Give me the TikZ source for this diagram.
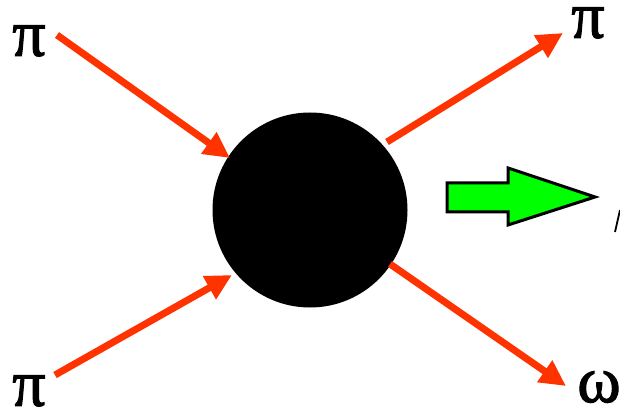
\documentclass[tikz,border=0pt]{standalone}
\usepackage{fontspec}
\setmainfont{Liberation Serif}
\newfontfamily\labfont{Liberation Serif}[FakeBold=1.6]
\usetikzlibrary{arrows.meta}
\definecolor{redarrow}{HTML}{FF3300}
\definecolor{greenarrow}{HTML}{00FF00}
\begin{document}
\begin{tikzpicture}[x=1pt,y=-1pt,
  particle/.style={draw=redarrow,line width=7pt,-{Triangle[length=26pt,width=25pt]}},
  lab/.style={inner sep=0pt,font=\labfont\fontsize{66}{66}\selectfont}]
\useasboundingbox (0,0) rectangle (620,411);
\node[circle,fill=black,minimum size=195pt,inner sep=0pt] (blob) at (310,210) {};
\node[lab] (pi1) at (29,41) {π};
\node[lab] (pi2) at (29,391) {π};
\node[lab] (pi3) at (588,23) {π};
\node[lab] (om) at (599,387) {ω};
\coordinate (t1) at (57,35);
\coordinate (h1) at (230,158);
\coordinate (t2) at (55,375);
\coordinate (h2) at (232,275);
\coordinate (t3) at (387,142);
\coordinate (h3) at (563,33);
\coordinate (t4) at (390,264);
\coordinate (h4) at (566,386);
\draw[particle] (t1) -- (h1);
\draw[particle] (t2) -- (h2);
\draw[particle] (t3) -- (h3);
\draw[particle] (t4) -- (h4);
\draw[fill=greenarrow,line width=3pt,line join=miter]
  (447,183) -- (508,183) -- (508,168) -- (595,197) -- (508,225) -- (508,212) -- (447,212) -- cycle;
\draw[line width=1.8pt] (615,232) -- (620,210);
\end{tikzpicture}
\end{document}
